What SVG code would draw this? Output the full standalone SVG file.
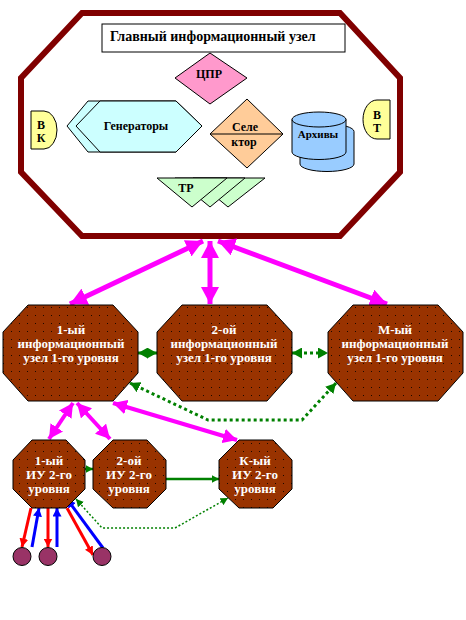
<svg xmlns="http://www.w3.org/2000/svg" width="466" height="620" viewBox="0 0 466 620">
<style>
.t{font-family:"Liberation Serif","DejaVu Serif",serif;font-weight:bold;fill:#000}
.w{font-family:"Liberation Serif","DejaVu Serif",serif;font-weight:bold;fill:#fff;font-size:13px;text-anchor:middle}
.brown{fill:url(#dots);stroke:#000;stroke-width:1}
.mag{stroke:#FF00FF;fill:none}
.grn{stroke:#008000;fill:none}
</style>
<defs>
<pattern id="dots" width="8" height="8" patternUnits="userSpaceOnUse">
<rect width="8" height="8" fill="#993300"/>
<rect x="3" y="3" width="1" height="1" fill="#1a0800"/>
</pattern>
<marker id="mh" markerUnits="userSpaceOnUse" markerWidth="18" markerHeight="18" viewBox="0 0 18 18" refX="17" refY="9" orient="auto-start-reverse"><path d="M0,0 L17,9 L0,18 Z" fill="#FF00FF"/></marker>
<marker id="mh2" markerUnits="userSpaceOnUse" markerWidth="15" markerHeight="15" viewBox="0 0 15 15" refX="14" refY="7.5" orient="auto-start-reverse"><path d="M0,0 L14,7.5 L0,15 Z" fill="#FF00FF"/></marker>
<marker id="gh" markerUnits="userSpaceOnUse" markerWidth="11" markerHeight="11" viewBox="0 0 11 11" refX="10" refY="5.5" orient="auto-start-reverse"><path d="M0,0 L10,5.5 L0,11 Z" fill="#008000"/></marker>
<marker id="gs" markerUnits="userSpaceOnUse" markerWidth="8" markerHeight="8" viewBox="0 0 8 8" refX="7.5" refY="4" orient="auto-start-reverse"><path d="M0,0 L7.5,4 L0,8 Z" fill="#008000"/></marker>
<marker id="rh" markerUnits="userSpaceOnUse" markerWidth="9" markerHeight="9" viewBox="0 0 9 9" refX="8.5" refY="4.5" orient="auto"><path d="M0,0 L8.5,4.5 L0,9 Z" fill="#FF0000"/></marker>
<marker id="bh" markerUnits="userSpaceOnUse" markerWidth="9" markerHeight="9" viewBox="0 0 9 9" refX="8.5" refY="4.5" orient="auto"><path d="M0,0 L8.5,4.5 L0,9 Z" fill="#0000FF"/></marker>
</defs>

<g id="main-node">
<polygon points="82,13 340,13 400,78 400,172 340,236 82,236 21,172 21,78" fill="#fff" stroke="#800000" stroke-width="6"/>
<rect x="102" y="24" width="243" height="28" fill="#fff" stroke="#000" stroke-width="1"/>
<text class="t" x="110" y="41" font-size="14">Главный информационный узел</text>
</g>
<g id="cpr">
<polygon points="210,53 247,78 210,104 175,78" fill="#FF99CC" stroke="#000" stroke-width="1"/>
<text class="t" x="209" y="78" font-size="12" text-anchor="middle">ЦПР</text>
</g>
<g id="generators">
<polygon points="67,126 88,101 176,101 202,126 176,152 88,152" fill="#CCFFFF" stroke="#000" stroke-width="1"/>
<polygon points="76,126 100,101 176,101 202,126 176,152 100,152" fill="#CCFFFF" stroke="#000" stroke-width="1"/>
<text class="t" x="136" y="130" font-size="12" text-anchor="middle">Генераторы</text>
</g>
<g id="vk">
<path d="M31,111 H44 A13,19 0 0 1 44,149 H31 Z" fill="#FFFF99" stroke="#000" stroke-width="1"/>
<text class="t" x="41" y="129" font-size="12" text-anchor="middle">В</text>
<text class="t" x="41" y="142" font-size="12" text-anchor="middle">К</text>
</g>
<g id="selector">
<polygon points="247,99 283,134 247,168 210,134" fill="#FFCC99" stroke="#000" stroke-width="1"/>
<line x1="210" y1="134" x2="283" y2="134" stroke="#000" stroke-width="1"/>
<text class="t" x="245" y="131" font-size="12" text-anchor="middle">Селе</text>
<text class="t" x="244" y="146" font-size="12" text-anchor="middle">ктор</text>
</g>
<g id="archives">
<path d="M300,131.5 V164 A27,7.5 0 0 0 354,164 V131.5 A27,7.5 0 0 0 300,131.5 Z" fill="#99CCFF" stroke="#000" stroke-width="1"/>
<path d="M292,119.5 V152 A27,7.5 0 0 0 346,152 V119.5 A27,7.5 0 0 0 292,119.5 Z" fill="#99CCFF" stroke="#000" stroke-width="1"/>
<path d="M292,119.5 A27,7.5 0 0 0 346,119.5" fill="none" stroke="#000" stroke-width="1"/>
<text class="t" x="318" y="138" font-size="11" text-anchor="middle">Архивы</text>
</g>
<g id="vt">
<path d="M390,100 H377 A14,19.5 0 0 0 377,139 H390 Z" fill="#FFFF99" stroke="#000" stroke-width="1"/>
<text class="t" x="377" y="119" font-size="12" text-anchor="middle">В</text>
<text class="t" x="377" y="132" font-size="12" text-anchor="middle">Т</text>
</g>
<g id="tr">
<polygon points="193,178 265,178 228,207" fill="#CCFFCC" stroke="#000" stroke-width="1"/>
<polygon points="175,178 245,178 210,207" fill="#CCFFCC" stroke="#000" stroke-width="1"/>
<polygon points="157,178 227,178 192,207" fill="#CCFFCC" stroke="#000" stroke-width="1"/>
<text class="t" x="186" y="192" font-size="12" text-anchor="middle">ТР</text>
</g>

<g id="connectors">
<line class="mag" x1="203" y1="241" x2="70" y2="304" stroke-width="5" marker-start="url(#mh)" marker-end="url(#mh)"/>
<line class="mag" x1="210" y1="241" x2="210" y2="304" stroke-width="5" marker-start="url(#mh)" marker-end="url(#mh)"/>
<line class="mag" x1="218" y1="241" x2="387" y2="304" stroke-width="5" marker-start="url(#mh)" marker-end="url(#mh)"/>
<line class="mag" x1="73" y1="403" x2="49" y2="439" stroke-width="4" marker-start="url(#mh2)" marker-end="url(#mh2)"/>
<line class="mag" x1="77" y1="403" x2="110" y2="439" stroke-width="4" marker-start="url(#mh2)" marker-end="url(#mh2)"/>
<line class="mag" x1="113" y1="403" x2="237" y2="440" stroke-width="4" marker-start="url(#mh2)" marker-end="url(#mh2)"/>
<line class="grn" x1="138" y1="353" x2="157" y2="353" stroke-width="3" marker-start="url(#gh)" marker-end="url(#gh)"/>
<line class="grn" x1="292" y1="353" x2="328" y2="353" stroke-width="3" stroke-dasharray="3 3" marker-start="url(#gh)" marker-end="url(#gh)"/>
<polyline class="grn" points="130,383 208,420 302,420 336,383" stroke-width="3" stroke-dasharray="3 3" marker-start="url(#gh)" marker-end="url(#gh)"/>
<line class="grn" x1="85" y1="469" x2="93" y2="469" stroke-width="2.5" marker-end="url(#gs)"/>
<line class="grn" x1="166" y1="479" x2="219" y2="479" stroke-width="2.5" marker-end="url(#gs)"/>
<polyline class="grn" points="76,499 102,528 175,528 228,498" stroke-width="1.5" stroke-dasharray="2 2" marker-start="url(#gs)" marker-end="url(#gs)"/>
<line x1="31" y1="508" x2="22" y2="547" stroke="#FF0000" stroke-width="3" marker-end="url(#rh)"/>
<line x1="32" y1="547" x2="39" y2="508" stroke="#0000FF" stroke-width="3" marker-end="url(#bh)"/>
<line x1="48" y1="508" x2="48" y2="547" stroke="#FF0000" stroke-width="3" marker-end="url(#rh)"/>
<line x1="57" y1="547" x2="57" y2="508" stroke="#0000FF" stroke-width="3" marker-end="url(#bh)"/>
<line x1="67" y1="508" x2="93" y2="555" stroke="#FF0000" stroke-width="3" marker-end="url(#rh)"/>
<line x1="103" y1="548" x2="67" y2="499" stroke="#0000FF" stroke-width="3" marker-end="url(#bh)"/>
</g>

<g id="node-1">
<polygon class="brown" points="28,305 113,305 138,332 138,373 113,401 28,401 3,373 3,332"/>
<text class="w" x="71" y="334">1-ый</text>
<text class="w" x="71" y="348">информационный</text>
<text class="w" x="71" y="362">узел 1-го уровня</text>
</g>
<g id="node-2">
<polygon class="brown" points="182,305 267,305 292,332 292,373 267,401 182,401 157,373 157,332"/>
<text class="w" x="224" y="334">2-ой</text>
<text class="w" x="224" y="348">информационный</text>
<text class="w" x="224" y="362">узел 1-го уровня</text>
</g>
<g id="node-m">
<polygon class="brown" points="353,305 438,305 463,332 463,373 438,401 353,401 328,373 328,332"/>
<text class="w" x="395" y="334">М-ый</text>
<text class="w" x="395" y="348">информационный</text>
<text class="w" x="395" y="362">узел 1-го уровня</text>
</g>
<g id="iu-1">
<polygon class="brown" points="32,440 66,440 85,460 85,489 66,508 32,508 13,489 13,460"/>
<text class="w" x="49" y="465">1-ый</text>
<text class="w" x="49" y="479">ИУ 2-го</text>
<text class="w" x="49" y="493">уровня</text>
</g>
<g id="iu-2">
<polygon class="brown" points="113,440 147,440 166,460 166,489 147,508 113,508 93,489 93,460"/>
<text class="w" x="129" y="465">2-ой</text>
<text class="w" x="129" y="479">ИУ 2-го</text>
<text class="w" x="129" y="493">уровня</text>
</g>
<g id="iu-k">
<polygon class="brown" points="239,440 273,440 292,460 292,489 273,508 239,508 219,489 219,460"/>
<text class="w" x="255" y="465">К-ый</text>
<text class="w" x="255" y="479">ИУ 2-го</text>
<text class="w" x="255" y="493">уровня</text>
</g>
<g id="terminal-1"><circle cx="22" cy="556.5" r="9" fill="#993366" stroke="#000" stroke-width="1"/></g>
<g id="terminal-2"><circle cx="48" cy="556.5" r="9" fill="#993366" stroke="#000" stroke-width="1"/></g>
<g id="terminal-3"><circle cx="102" cy="556.5" r="9" fill="#993366" stroke="#000" stroke-width="1"/></g>
</svg>
